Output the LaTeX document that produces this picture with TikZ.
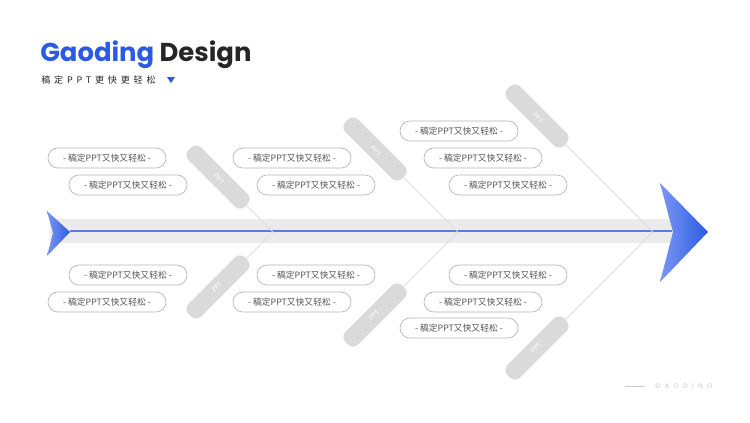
\documentclass[tikz,border=0pt]{standalone}
\usepackage{fontspec}
\setmainfont{Poppins}
\newfontfamily\cjk{Noto Sans CJK SC}
\newfontfamily\cjkspaced[LetterSpace=42]{Noto Sans CJK SC}
\newfontfamily\footspaced[LetterSpace=65]{Poppins}

\definecolor{gdblue}{HTML}{2B5BE3}
\definecolor{gdlight}{HTML}{7B97F2}
\definecolor{gddark}{HTML}{262626}
\definecolor{gdline}{HTML}{5C7BE2}
\definecolor{spinegrey}{HTML}{EBEBEB}
\definecolor{bonegrey}{HTML}{DEDEDE}
\definecolor{tabgrey}{HTML}{DADADA}
\definecolor{pillborder}{HTML}{B5B5B5}
\definecolor{pilltext}{HTML}{555555}
\definecolor{footgrey}{HTML}{C9C9C9}

\tikzset{
  pill/.style={draw=pillborder, line width=.5pt, fill=white, rounded corners=7.5pt,
    minimum width=88.5pt, minimum height=15pt, inner sep=0pt,
    font=\cjk\fontsize{6.6}{8}\selectfont, text=pilltext},
  tab/.style={fill=tabgrey, rounded corners=5.5pt, minimum width=60pt,
    minimum height=13.5pt, inner sep=0pt},
  tablabel/.style={inner sep=0pt, text=white, font=\fontsize{5}{6}\selectfont}
}

\begin{document}
\begin{tikzpicture}[x=.75pt, y=-.75pt]
        \useasboundingbox (0,0) rectangle (750,422);

        \node[anchor=base west, inner sep=0pt, font=\fontsize{19.4}{23}\selectfont\bfseries]
          (title) at (40,61) {\textcolor{gdblue}{Gaoding} \textcolor{gddark}{Design}};
        \node[anchor=west, inner sep=0pt, text=gddark, font=\cjkspaced\fontsize{6.8}{8}\selectfont]
          (sub) at (41,80) {稿定PPT更快更轻松};
        \fill[gdblue] (167,77) -- (175,77) -- (171,83) -- cycle;

        \fill[spinegrey] (50,219) rectangle (674,243);
        \draw[gdline, line width=1.1pt] (70,231) -- (672,231);
        \shade[left color=gdlight, right color=gdblue] (47,211) -- (70,232) -- (47,256) -- (53,233) -- cycle;
        \shade[left color=gdlight, right color=gdblue] (660,183) -- (708,232) -- (660,282) -- (673,232) -- cycle;

        \begin{scope}[every node/.style={tab}]
          \foreach \sx/\d [count=\i] in {273/55, 458/83, 653/116} {
            \coordinate (s\i) at (\sx,232);
            \node[rotate=-45] (u\i) at (\sx-\d,232-\d) {};
            \node[rotate=45]  (l\i) at (\sx-\d,232+\d) {};
          }
        \end{scope}

        \begin{scope}[every node/.style={tablabel}]
          \foreach \i in {1,2,3} {
            \node[rotate=-45] (ut\i) at ([shift={(1,2)}]u\i.center) {PPT};
            \node[rotate=45]  (lt\i) at ([shift={(-1,0)}]l\i.center) {PPT};
          }
        \end{scope}

        \begin{scope}[every edge/.style={draw=bonegrey, line width=.6pt}]
          \foreach \i in {1,2,3} {
            \path (s\i) edge (u\i);
            \path (s\i) edge (l\i);
          }
        \end{scope}

        \begin{scope}[every node/.style={pill}]
          \foreach \x/\y [count=\i] in {107/158, 128/185, 292/158, 316/185,
              459/131, 483/158, 508/185, 128/275, 107/302, 316/275,
              292/302, 508/275, 483/302, 459/328}
            \node (p\i) at (\x,\y) {- 稿定PPT又快又轻松 -};
        \end{scope}

        \node[anchor=west, inner sep=0pt, text=footgrey, font=\footspaced\fontsize{5}{6}\selectfont]
          (foot) at (655,386) {GAODING};
        \draw[footgrey, line width=.5pt] ([xshift=-22.5pt]foot.west) -- ([xshift=-7.5pt]foot.west);

      \end{tikzpicture}
\end{document}
